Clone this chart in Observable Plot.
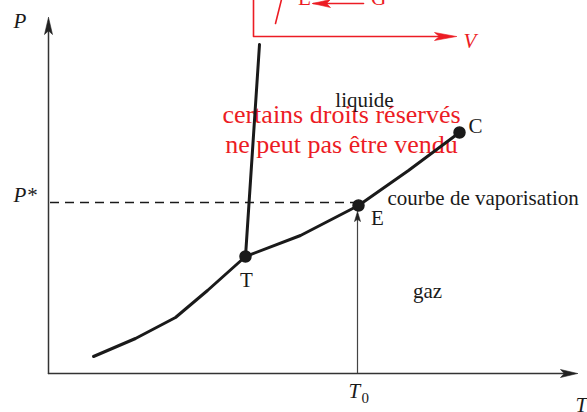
<!DOCTYPE html>
<html><head><meta charset="utf-8">
<script src="https://cdn.jsdelivr.net/npm/d3@7"></script>
<script src="https://cdn.jsdelivr.net/npm/@observablehq/plot@0.6"></script>
<style>html,body{margin:0;padding:0;background:#fff;} svg{display:block}</style>
</head><body><div id="chart"></div>
<script>
// Phase diagram data (T, P in arbitrary units)
const T_sub = [45, 87, 127, 159, 197];
const P_sub = [17, 35, 56, 83, 117];
const T_vap = [197, 252, 310, 360, 411];
const P_vap = [117, 138, 168, 203, 241];
const T_fus = [197, 211];
const P_fus = [117, 329];
const pointNames = ["T", "E", "C"];
const pointT = [197, 310, 411];
const pointP = [117, 168, 241];
const Pstar = 171;
const T0 = 309;
const Tmax = 529, Pmax = 356;

// Labels
const labelText = ["liquide", "courbe de vaporisation", "gaz", "T", "E", "C"];
const labelT = [316, 339, 379, 198, 329, 420];
const labelP = [273, 175, 82, 93, 155, 247];
const labelAnchor = ["middle", "start", "middle", "middle", "middle", "start"];

const wmText = ["certains droits réservés", "ne peut pas être vendu"];
const wmT = [293, 293];
const wmP = [259, 229];

// Red P–V inset (partially cut off at the top)
const insetOrigin = [205, 337];
const insetVmax = 407;
const insetTop = 380;
const insetCurveT = [227, 234];
const insetCurveP = [350, 378];
const insetArrowT = [315, 265];
const insetArrowP = [370, 370];
const insetText = ["E", "G", "V"];
const insetTextT = [256, 330, 415];
const insetTextP = [375, 375, 332];
const insetStyle = ["normal", "normal", "italic"];

const red = "#ec1c24", ink = "#1a1a1a";
const serif = "Liberation Serif, Times New Roman, serif";
const zip = (a, b) => a.map((v, i) => [v, b[i]]);

function head(tip, dir, len, wid) {
  const [tx, ty] = tip, [dx, dy] = dir, px = -dy, py = dx;
  const bx = tx - dx * len, by = ty - dy * len;
  const nx = tx - dx * len * 0.78, ny = ty - dy * len * 0.78;
  return [[tx, ty], [bx + px * wid / 2, by + py * wid / 2], [nx, ny],
          [bx - px * wid / 2, by - py * wid / 2], [tx, ty]];
}
const headMark = (pts, color) => Plot.line(pts, {x: d => d[0], y: d => d[1], fill: color, stroke: color, strokeWidth: 0.6});

const sub = zip(T_sub, P_sub), vap = zip(T_vap, P_vap), fus = zip(T_fus, P_fus);
const pts = pointNames.map((n, i) => ({n, T: pointT[i], P: pointP[i]}));
const labels = labelText.map((t, i) => ({t, T: labelT[i], P: labelP[i], a: labelAnchor[i]}));
const txt = (data, o) => Plot.text(data, {x: "T", y: "P", text: "t", fontFamily: serif, ...o});

const plot = Plot.plot({
  width: 587, height: 412, margin: 0,
  x: {domain: [-48, 539], range: [0, 587], axis: null},
  y: {domain: [-39, 373], range: [412, 0], axis: null},
  style: {fontFamily: serif, background: "white", overflow: "hidden"},
  marks: [
    // red inset
    Plot.line([[insetOrigin[0], insetTop], insetOrigin, [insetVmax - 14, insetOrigin[1]]], {x: d => d[0], y: d => d[1], stroke: red, strokeWidth: 1.6}),
    headMark(head([insetVmax + 1, insetOrigin[1]], [1, 0], 22, 8), red),
    Plot.line(zip(insetCurveT, insetCurveP), {x: d => d[0], y: d => d[1], stroke: red, strokeWidth: 1.6}),
    Plot.line(zip(insetArrowT, insetArrowP), {x: d => d[0], y: d => d[1], stroke: red, strokeWidth: 1.6}),
    headMark(head([insetArrowT[1] - 1, insetArrowP[1]], [-1, 0], 18, 8), red),
    txt(insetText.map((t, i) => ({t, T: insetTextT[i], P: insetTextP[i], s: insetStyle[i]})).filter(d => d.s === "normal"),
      {fill: red, fontSize: 21, textAnchor: "middle"}),
    txt([{t: insetText[2], T: insetTextT[2], P: insetTextP[2]}],
      {fill: red, fontSize: 21, fontStyle: "italic", textAnchor: "start"}),
    // watermark
    txt(wmText.map((t, i) => ({t, T: wmT[i], P: wmP[i]})), {fill: red, fontSize: 26, textAnchor: "middle"}),
    // axes
    Plot.line([[0, 0], [Tmax - 14, 0]], {x: d => d[0], y: d => d[1], stroke: "#333", strokeWidth: 1.5}),
    headMark(head([Tmax, 0], [1, 0], 17, 8), "#222"),
    Plot.line([[0, 0], [0, Pmax - 14]], {x: d => d[0], y: d => d[1], stroke: "#333", strokeWidth: 1.5}),
    headMark(head([0, Pmax], [0, 1], 17, 8), "#222"),
    // dashed P* line
    Plot.ruleY([Pstar], {x1: 2, x2: T0, stroke: ink, strokeWidth: 1.6, strokeDasharray: "9,6"}),
    // T0 arrow
    Plot.ruleX([T0], {y1: 0, y2: pointP[1] - 14, stroke: "#444", strokeWidth: 1.2}),
    headMark(head([T0, pointP[1] - 6], [0, 1], 10, 6), "#222"),
    // curves
    Plot.line(sub, {x: d => d[0], y: d => d[1], stroke: ink, strokeWidth: 3, strokeLinejoin: "round"}),
    Plot.line(vap, {x: d => d[0], y: d => d[1], stroke: ink, strokeWidth: 3, strokeLinejoin: "round"}),
    Plot.line(fus, {x: d => d[0], y: d => d[1], stroke: ink, strokeWidth: 3}),
    Plot.dot(pts, {x: "T", y: "P", r: 5.5, fill: ink, stroke: ink}),
    // labels
    txt(labels.filter(d => d.a === "middle"), {fill: ink, fontSize: 21, textAnchor: "middle"}),
    txt(labels.filter(d => d.a === "start"), {fill: ink, fontSize: 21, textAnchor: "start"}),
    // axis labels
    txt([{t: "P", T: -35, P: 352}], {fill: ink, fontSize: 21, fontStyle: "italic", textAnchor: "start"}),
    txt([{t: "P*", T: -35, P: 178}], {fill: ink, fontSize: 21, fontStyle: "italic", textAnchor: "start"}),
    txt([{t: "T", T: T0 - 9, P: -18}], {fill: ink, fontSize: 21, fontStyle: "italic", textAnchor: "start"}),
    txt([{t: "0", T: T0 + 4, P: -25}], {fill: ink, fontSize: 15, textAnchor: "start"}),
    txt([{t: "T", T: Tmax - 2, P: -32}], {fill: ink, fontSize: 21, fontStyle: "italic", textAnchor: "start"})
  ]
});
document.getElementById("chart").appendChild(plot);
</script>
</body></html>
